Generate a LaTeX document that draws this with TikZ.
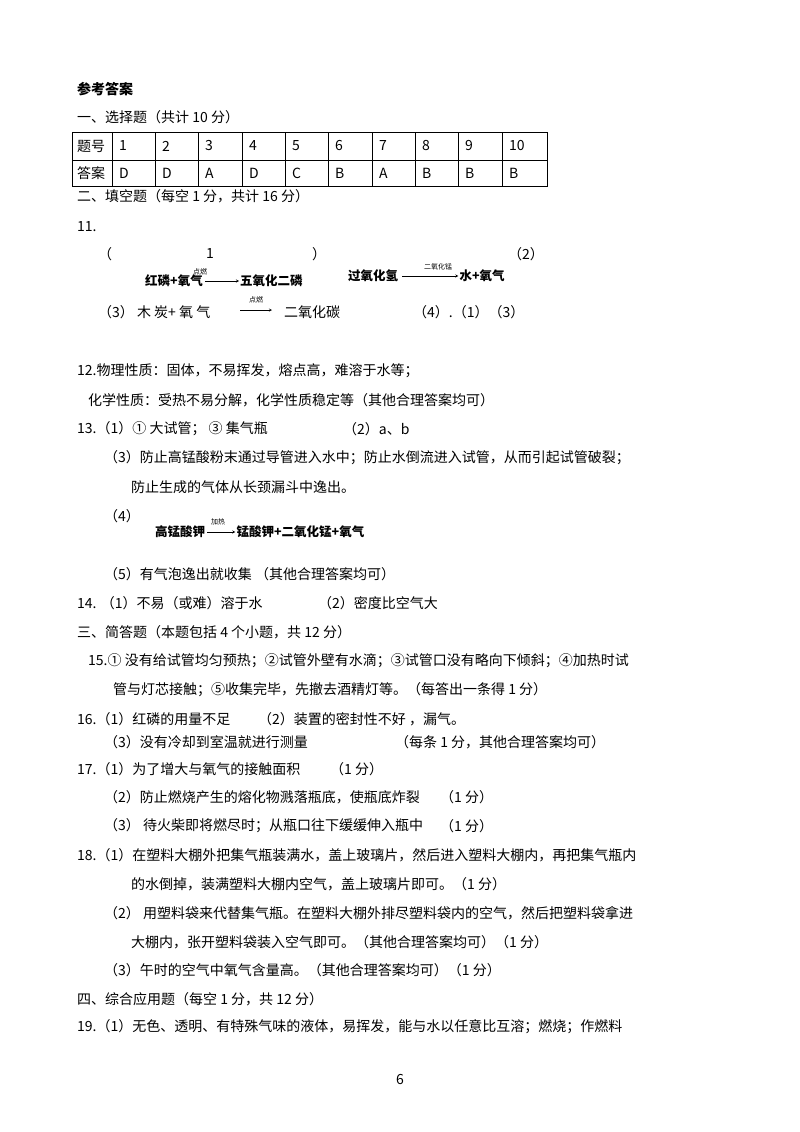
\documentclass[tikz,border=0pt]{standalone}
\usepackage{fontspec}
\setmainfont{Liberation Serif}
\newfontfamily\cjk{Noto Sans CJK SC}
\begin{document}
\begin{tikzpicture}[x=1pt,y=-1pt,
  t/.style={anchor=west,inner sep=0pt,font=\cjk\fontsize{14}{16}\selectfont},
  b/.style={t,font=\cjk\bfseries\fontsize{14}{16}\selectfont},
  s/.style={inner sep=0pt,font=\cjk\fontsize{7}{8}\selectfont},
  eq/.style={t,font=\cjk\bfseries\fontsize{12.5}{14}\selectfont},
  c/.style={anchor=west,inner sep=0pt,font=\cjk\fontsize{14}{16}\selectfont}]
\useasboundingbox[fill=white] (0,0) rectangle (800,1132);
\node[b] (h) at (77,89) {参考答案};
\node[t] (s1) at (77,117) {一、选择题（共计 10 分）};
% table
\draw[line width=0.8] (72,132) rectangle (547,186);
\draw[line width=0.8] (72,160) -- (547,160);
\foreach \x in {112,155,198,242,285,328,372,415,458,502}{\draw[line width=0.8] (\x,132) -- (\x,186);}
\node[c] (th) at (77,146) {题号};
\node[c] (ta) at (77,173) {答案};
\foreach \x/\n/\a in {112/1/D,155/2/D,198/3/A,242/4/D,285/5/C,328/6/B,372/7/A,415/8/B,458/9/B,502/10/B}{
  \node[c] at (\x+7,146) {\n};
  \node[c] at (\x+7,173) {\a};}
\node[t] (s2) at (77,196) {二、填空题（每空 1 分，共计 16 分）};
\node[t] (q11) at (77,227) {11.};
\node[t] (p1) at (98,254) {（};
\node[t] (p1b) at (206,254) {1};
\node[t] (p1c) at (312,254) {）};
\node[t] (p2) at (508,254) {（2）};
\node[eq] (e1a) at (145,281) {红磷+氧气};
\draw[-stealth] ([xshift=2pt]e1a.east) -- ++(34,0) coordinate (e1e);
\node[s] at (200,272) {点燃};
\node[eq] (e1b) at ([xshift=1pt]e1e) {五氧化二磷};
\node[eq] (e2a) at (348,276) {过氧化氢};
\draw[-stealth] ([xshift=4pt]e2a.east) -- ++(56,0) coordinate (e2e);
\node[s] at (438,267) {二氧化锰};
\node[eq] (e2b) at ([xshift=1pt]e2e) {水+氧气};
\node[t] (q3) at (98,312) {（3） 木 炭+ 氧 气};
\draw[-stealth] (240,310) -- (272,310);
\node[s] at (256,300) {点燃};
\node[t] (q3b) at (284,312) {二氧化碳};
\node[t] (q4) at (413,312) {（4）.（1）（3）};
\node[t] at (77,371) {12.物理性质：固体，不易挥发，熔点高，难溶于水等；};
\node[t] at (88,400) {化学性质：受热不易分解，化学性质稳定等（其他合理答案均可）};
\node[t] at (77,429) {13.（1）① 大试管；  ③ 集气瓶};
\node[t] at (343,429) {（2）a、b};
\node[t] at (104,458) {（3）防止高锰酸粉末通过导管进入水中；防止水倒流进入试管，从而引起试管破裂；};
\node[t] at (131,487) {防止生成的气体从长颈漏斗中逸出。};
\node[t] at (104,516) {（4）};
\node[eq] (e3a) at (155,532) {高锰酸钾};
\draw[-stealth] ([xshift=2pt]e3a.east) -- ++(28,0) coordinate (e3e);
\node[s] at (218,522) {加热};
\node[eq] (e3b) at ([xshift=1pt]e3e) {锰酸钾+二氧化锰+氧气};
\node[t] at (104,574) {（5）有气泡逸出就收集 （其他合理答案均可）};
\node[t] at (77,603) {14. （1）不易（或难）溶于水};
\node[t] at (318,603) {（2）密度比空气大};
\node[t] at (77,632) {三、简答题（本题包括 4 个小题，共 12 分）};
\node[t] at (88,661) {15.① 没有给试管均匀预热；②试管外壁有水滴；③试管口没有略向下倾斜；④加热时试};
\node[t] at (113,690) {管与灯芯接触；⑤收集完毕，先撤去酒精灯等。（每答出一条得 1 分）};
\node[t] at (77,719) {16.（1）红磷的用量不足};
\node[t] at (258,719) {（2）装置的密封性不好 ，漏气。};
\node[t] at (104,742) {（3）没有冷却到室温就进行测量};
\node[t] at (395,742) {（每条 1 分，其他合理答案均可）};
\node[t] at (77,769) {17.（1）为了增大与氧气的接触面积};
\node[t] at (330,769) {（1 分）};
\node[t] at (104,797) {（2）防止燃烧产生的熔化物溅落瓶底，使瓶底炸裂};
\node[t] at (440,797) {（1 分）};
\node[t] at (104,826) {（3） 待火柴即将燃尽时；从瓶口往下缓缓伸入瓶中};
\node[t] at (440,826) {（1 分）};
\node[t] at (77,855) {18.（1）在塑料大棚外把集气瓶装满水，盖上玻璃片，然后进入塑料大棚内，再把集气瓶内};
\node[t] at (131,884) {的水倒掉，装满塑料大棚内空气，盖上玻璃片即可。（1 分）};
\node[t] at (104,913) {（2）  用塑料袋来代替集气瓶。在塑料大棚外排尽塑料袋内的空气，然后把塑料袋拿进};
\node[t] at (131,942) {大棚内，张开塑料袋装入空气即可。（其他合理答案均可）（1 分）};
\node[t] at (104,970) {（3）午时的空气中氧气含量高。（其他合理答案均可）（1 分）};
\node[t] at (77,999) {四、综合应用题（每空 1 分，共 12 分）};
\node[t] at (77,1027) {19.（1）无色、透明、有特殊气味的液体，易挥发，能与水以任意比互溶；燃烧；作燃料};
\node[c] at (396,1079) {6};
\end{tikzpicture}
\end{document}
